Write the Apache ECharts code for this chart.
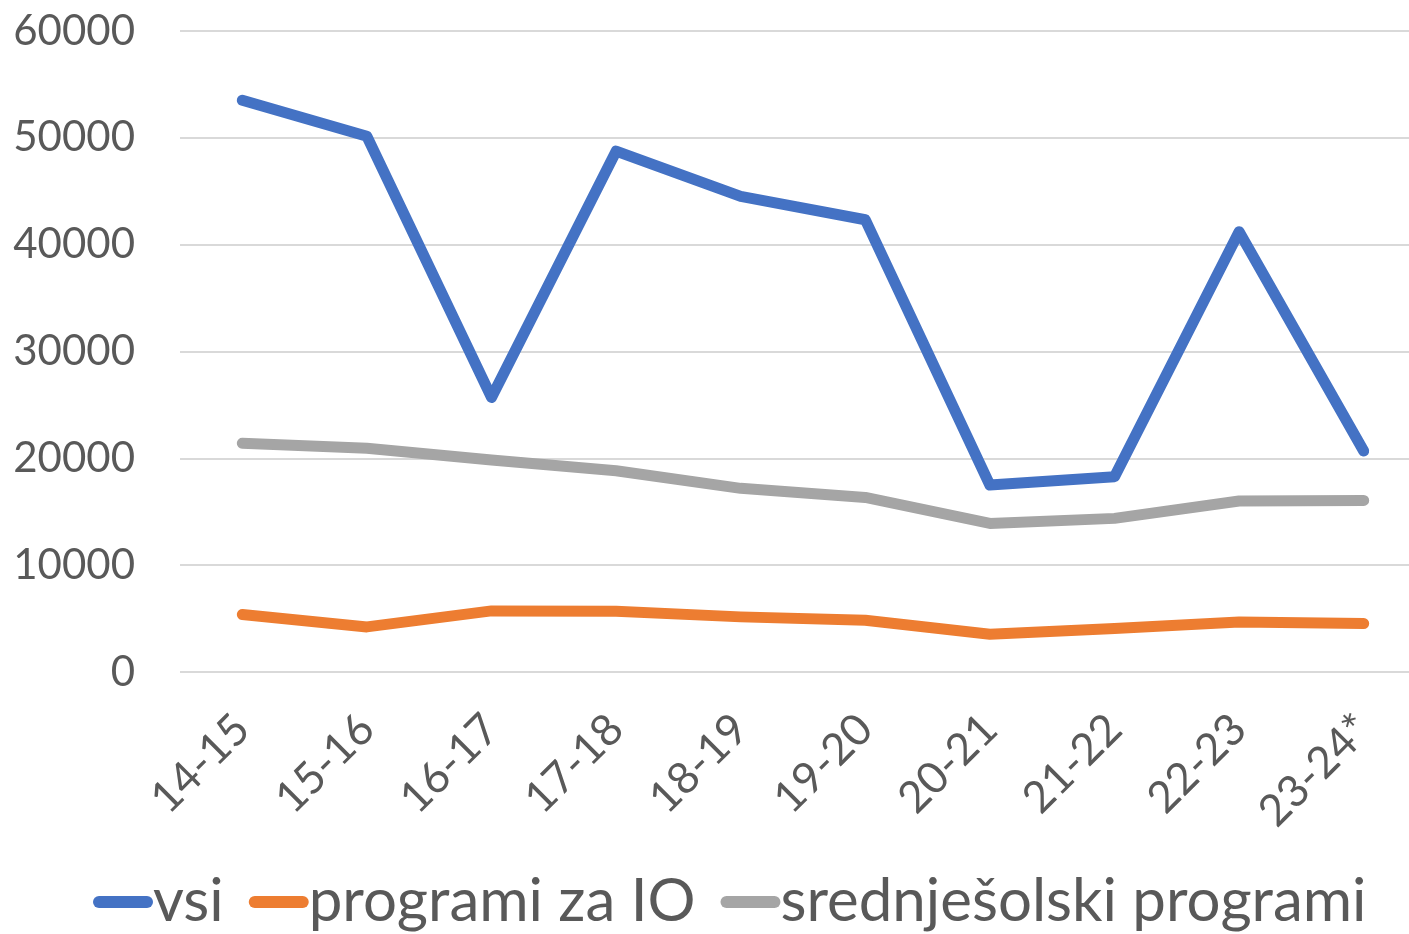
<!DOCTYPE html>
<html>
<head>
<meta charset="utf-8">
<script src="https://cdn.jsdelivr.net/npm/echarts@6/dist/echarts.min.js"></script>
<style>
html,body{margin:0;padding:0;background:#fff;overflow:hidden;width:1409px;height:934px;}
#chart{width:1430px;height:934px;}
</style>
</head>
<body>
<div id="chart"></div>
<script>
const categories = ['14-15','15-16','16-17','17-18','18-19','19-20','20-21','21-22','22-23','23-24*'];
const vsi = [53520, 50140, 25700, 48750, 44520, 42330, 17500, 18280, 41210, 20680];
const programiIO = [5380, 4220, 5720, 5690, 5160, 4850, 3530, 4070, 4690, 4540];
const srednjesolski = [21410, 20940, 19840, 18840, 17190, 16340, 13910, 14380, 16000, 16060];
const yTicks = [0, 10000, 20000, 30000, 40000, 50000, 60000];

const FONT = 'Lato';
const TEXT = '#595959';
const chart = echarts.init(document.getElementById('chart'), null, {renderer:'canvas'});
const iconPath = 'path://M6 0H54A6 6 0 0 1 54 12H6A6 6 0 0 1 6 0Z';
function mk(name, data, color){
  return {
    name, type:'line', data, showSymbol:false, symbol:'none',
    lineStyle:{color, width:11, cap:'round', join:'round'},
    itemStyle:{color}, animation:false
  };
}
chart.setOption({
  animation:false,
  textStyle:{fontFamily:FONT},
  grid:{left:180, top:31, width:1246, height:641, containLabel:false},
  legend:{
    left:93, top:872, itemWidth:60, itemHeight:12, itemGap:25, padding:0,
    icon:iconPath,
    textStyle:{fontFamily:FONT, fontSize:60, color:TEXT, padding:[0,0,0,-5]},
    data:['vsi','programi za IO','srednješolski programi']
  },
  xAxis:{
    type:'category', data:categories, boundaryGap:true,
    axisLine:{show:false}, axisTick:{show:false},
    axisLabel:{rotate:45, margin:50, fontSize:44, color:TEXT, fontFamily:FONT}
  },
  yAxis:{
    type:'value', min:yTicks[0], max:yTicks[yTicks.length-1], interval:10000,
    axisLine:{show:false}, axisTick:{show:false},
    axisLabel:{fontSize:42, color:TEXT, margin:45, fontFamily:FONT, formatter:function(v){return String(v);}},
    splitLine:{lineStyle:{color:'#d9d9d9', width:2}}
  },
  series:[
    mk('vsi', vsi, '#4472C4'),
    mk('programi za IO', programiIO, '#ED7D31'),
    mk('srednješolski programi', srednjesolski, '#A5A5A5')
  ]
});
</script>
</body>
</html>
